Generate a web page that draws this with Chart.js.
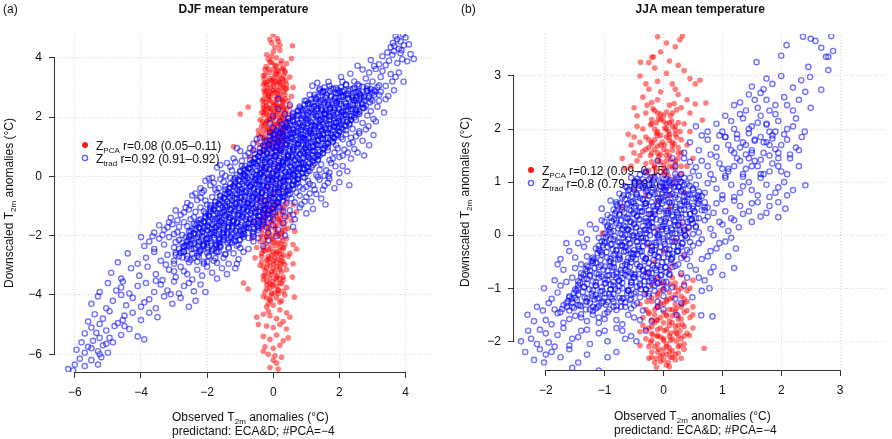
<!DOCTYPE html>
<html>
<head>
<meta charset="utf-8">
<script src="https://cdn.jsdelivr.net/npm/chart.js@4.4.1/dist/chart.umd.min.js"></script>
<style>
  html, body { margin: 0; padding: 0; background: #fff; }
  #wrap { position: relative; width: 892px; height: 439px; }
  canvas { position: absolute; top: 0; }
</style>
</head>
<body>
<div id="wrap">
  <canvas id="cDjf" width="446" height="439" style="left:0"></canvas>
  <canvas id="cJja" width="446" height="439" style="left:446px"></canvas>
</div>
<script>
// tick values
const djfTicks = [-6, -4, -2, 0, 2, 4];
const jjaTicks = [-2, -1, 0, 1, 2, 3];

// DJF, Z_trad (blue open circles) - x,y pairs
const djfTrad = [
  3.92,4.78, 3.75,4.62, 3.85,4.55, 3.62,4.5, 4.0,4.68, 3.7,4.72, 3.95,4.42, 3.55,4.35, 3.8,4.3, 4.1,4.45, 3.66,4.4, 3.88,4.25,
  3.45,4.18, 3.3,4.05, 3.6,4.1, 3.9,3.95, 4.25,3.96, 4.05,3.88, 3.75,3.82, 3.5,3.9, 3.2,3.78, 3.05,3.72, 3.65,4.22, 4.15,4.12, 3.4,3.75, 3.85,4.15, 2.95,3.92,
  2.55,3.73, 2.33,3.46, 2.7,3.6, 2.9,3.5, 3.1,3.62, 3.3,3.55, 3.55,3.45, 3.8,3.5, 2.8,3.3, 3.0,3.2, 3.25,3.35, 3.6,3.2, 3.94,3.19, 2.45,3.2, 2.6,3.05, 2.2,3.1, 3.4,3.05, 2.09,3.19, 1.67,3.19, 1.33,3.15, 1.18,3.05, 3.7,3.35, 2.05,3.35, 3.15,3.0, 2.85,3.05,
  1.5,2.85, 1.75,2.95, 1.95,2.8, 2.15,2.9, 2.4,2.95, 2.6,2.8, 2.85,2.9, 3.05,2.75, 3.25,2.85, 3.48,2.71, 3.65,2.9, 1.3,2.6, 1.6,2.65, 1.85,2.55, 2.05,2.7, 2.3,2.6, 2.5,2.65, 2.75,2.55, 2.95,2.6, 3.2,2.55, 3.4,2.6, 1.1,2.75, 0.15,2.61, 2.2,2.75, 2.65,2.7, 1.45,2.5, 1.9,2.98, 0.95,2.55,
  0.15,2.27, 0.5,2.4, 0.8,2.3, 1.05,2.45, 1.25,2.35, 1.45,2.25, 1.65,2.4, 1.85,2.3, 2.0,2.45, 2.2,2.35, 2.4,2.25, 2.55,2.4, 2.75,2.3, 2.95,2.2, 3.15,2.35, 3.35,2.15, 0.6,2.1, 0.9,2.05, 1.15,2.15, 1.35,2.05, 1.55,2.12, 1.75,2.02, 1.95,2.15, 2.15,2.08, 2.35,2.02, 2.6,2.1, 2.85,2.05, 0.35,2.1, 1.0,2.22, 1.6,2.2, 2.1,2.2, 2.5,2.18, 0.0,2.03, 3.03,1.93, 0.75,2.2, 1.3,2.28, 1.8,2.15,
  0.0,1.63, 0.2,1.85, 0.4,1.75, 0.6,1.9, 0.8,1.8, 1.0,1.95, 1.15,1.7, 1.3,1.85, 1.5,1.75, 1.7,1.9, 1.9,1.8, 2.1,1.95, 2.3,1.75, 2.5,1.9, 2.7,1.8, 2.88,1.69, 3.1,1.85, 0.3,1.55, 0.5,1.6, 0.7,1.52, 0.9,1.65, 1.1,1.55, 1.25,1.6, 1.45,1.52, 1.6,1.62, 1.8,1.55, 2.0,1.65, 2.2,1.55, 2.4,1.6, 2.6,1.52, 2.8,1.58, -0.1,1.8, 0.1,1.5, 0.65,1.72, 1.05,1.8, 1.4,1.68, 1.85,1.7, 2.25,1.85, 0.45,1.95, 1.55,1.95, 2.05,1.75, 0.85,1.58,
  -0.6,1.1, -0.4,1.3, -0.2,1.2, 0.0,1.4, 0.15,1.15, 0.3,1.35, 0.45,1.2, 0.6,1.45, 0.75,1.25, 0.9,1.4, 1.05,1.15, 1.2,1.35, 1.35,1.2, 1.5,1.45, 1.65,1.3, 1.8,1.15, 1.95,1.4, 2.1,1.25, 2.3,1.1, 2.5,1.35, 2.7,1.2, 3.03,1.39, 2.9,1.05, -0.3,1.05, -0.1,1.48, 0.1,1.02, 0.25,1.28, 0.4,1.05, 0.55,1.32, 0.7,1.08, 0.85,1.3, 1.0,1.05, 1.15,1.45, 1.3,1.08, 1.45,1.28, 1.6,1.1, 1.75,1.4, 1.9,1.05, 2.05,1.32, 2.2,1.42, 2.4,1.15, 2.6,1.45, -0.5,1.25, 0.05,1.25, 0.5,1.4, 0.95,1.22, 1.4,1.38, 1.85,1.28, 2.35,1.3,
  -1.2,0.6, -1.0,0.85, -0.85,0.7, -0.7,0.95, -0.55,0.6, -0.4,0.8, -0.25,0.55, -0.1,0.9, 0.05,0.7, 0.2,0.95, 0.35,0.6, 0.5,0.85, 0.65,0.55, 0.8,0.75, 0.95,0.95, 1.1,0.6, 1.25,0.85, 1.4,0.7, 1.55,0.95, 1.7,0.55, 1.85,0.8, 2.0,0.65, 2.15,0.9, 2.35,0.6, 2.55,0.8, 2.75,0.7, -1.1,0.95, -0.95,0.52, -0.75,0.78, -0.6,0.88, -0.45,0.52, -0.3,0.72, -0.15,0.62, 0.0,0.98, 0.15,0.52, 0.3,0.82, 0.45,0.68, 0.6,0.98, 0.75,0.62, 0.9,0.82, 1.05,0.72, 1.2,0.98, 1.35,0.55, 1.5,0.78, 1.65,0.88, 1.8,0.6, 1.95,0.95, 2.1,0.7, 2.25,0.8, 0.1,0.8, 0.55,0.72, 1.0,0.88, -0.2,0.78, 1.3,0.65, 2.45,0.92,
  -1.85,-0.05, -1.7,0.3, -1.55,0.1, -1.4,0.45, -1.25,0.2, -1.1,0.05, -0.95,0.35, -0.8,0.15, -0.65,0.45, -0.5,0.05, -0.35,0.3, -0.2,0.1, -0.05,0.4, 0.1,0.2, 0.25,0.45, 0.4,0.05, 0.55,0.3, 0.7,0.15, 0.85,0.42, 1.0,0.1, 1.15,0.3, 1.3,0.05, 1.45,0.4, 1.6,0.2, 1.75,0.45, 1.88,0.34, 2.0,0.1, 2.24,0.17, 2.1,0.35, -1.6,0.38, -1.45,0.02, -1.3,0.32, -1.15,0.48, -1.0,0.18, -0.85,0.02, -0.7,0.28, -0.55,0.42, -0.4,0.12, -0.25,0.48, -0.1,0.25, 0.05,0.02, 0.2,0.32, 0.35,0.15, 0.5,0.48, 0.65,0.02, 0.8,0.28, 0.95,0.38, 1.1,0.18, 1.25,0.45, 1.4,0.22, 1.55,0.02, 1.7,0.12, 1.67,0.0, -0.3,0.2, 0.3,0.38, 0.9,0.25, -0.9,0.25, 0.6,0.1,
  -2.2,-0.4, -2.05,-0.15, -1.9,-0.3, -1.75,-0.45, -1.6,-0.1, -1.45,-0.35, -1.3,-0.05, -1.15,-0.25, -1.0,-0.45, -0.85,-0.15, -0.7,-0.35, -0.55,-0.05, -0.4,-0.3, -0.25,-0.48, -0.1,-0.12, 0.05,-0.38, 0.2,-0.08, 0.35,-0.28, 0.5,-0.45, 0.65,-0.15, 0.8,-0.35, 0.95,-0.05, 1.1,-0.25, 1.25,-0.45, 1.4,-0.12, 1.55,-0.32, 1.7,-0.08, 1.85,-0.4, 2.0,-0.2, 2.3,-0.3, -2.1,-0.48, -1.95,-0.08, -1.8,-0.22, -1.65,-0.4, -1.5,-0.18, -1.35,-0.42, -1.2,-0.12, -1.05,-0.32, -0.9,-0.02, -0.75,-0.22, -0.6,-0.42, -0.45,-0.15, -0.3,-0.02, -0.15,-0.35, 0.0,-0.2, 0.15,-0.45, 0.3,-0.15, 0.45,-0.02, 0.6,-0.3, 0.75,-0.1, 0.9,-0.42, 1.05,-0.15, 1.2,-0.3, 1.35,-0.02, 1.5,-0.45, 1.65,-0.22, -0.5,-0.25, 0.1,-0.1, 0.7,-0.25, 1.0,-0.35,
  -2.6,-0.9, -2.45,-0.65, -2.3,-0.8, -2.15,-0.55, -2.0,-0.95, -1.85,-0.7, -1.7,-0.55, -1.55,-0.85, -1.4,-0.6, -1.25,-0.95, -1.1,-0.75, -0.95,-0.55, -0.8,-0.9, -0.65,-0.65, -0.5,-0.8, -0.35,-0.55, -0.2,-0.95, -0.05,-0.7, 0.1,-0.85, 0.25,-0.6, 0.4,-0.9, 0.55,-0.75, 0.7,-0.55, 0.85,-0.95, 1.0,-0.7, 1.15,-0.85, 1.3,-0.6, 1.58,-0.95, 1.45,-0.75, -2.5,-0.98, -2.35,-0.58, -2.2,-0.72, -2.05,-0.82, -1.9,-0.98, -1.75,-0.88, -1.6,-0.68, -1.45,-0.98, -1.3,-0.72, -1.15,-0.58, -1.0,-0.88, -0.85,-0.68, -0.7,-0.95, -0.55,-0.58, -0.4,-0.72, -0.25,-0.82, -0.1,-0.55, 0.05,-0.98, 0.2,-0.72, 0.35,-0.68, 0.5,-0.58, 0.65,-0.88, 0.8,-0.65, 0.95,-0.85, 1.1,-0.58,
  -3.1,-1.4, -2.95,-1.15, -2.8,-1.3, -2.65,-1.05, -2.5,-1.45, -2.35,-1.2, -2.2,-1.05, -2.05,-1.35, -1.9,-1.1, -1.75,-1.45, -1.6,-1.25, -1.45,-1.05, -1.3,-1.4, -1.15,-1.15, -1.0,-1.3, -0.85,-1.05, -0.7,-1.45, -0.55,-1.2, -0.4,-1.35, -0.25,-1.1, -0.1,-1.4, 0.05,-1.2, 0.2,-1.05, 0.35,-1.35, 0.5,-1.15, 0.65,-1.45, 0.8,-1.05, 1.0,-1.25, 1.2,-1.1, -2.9,-1.48, -2.7,-1.22, -2.55,-1.12, -2.4,-1.38, -2.25,-1.48, -2.1,-1.18, -1.95,-1.28, -1.8,-1.08, -1.65,-1.38, -1.5,-1.18, -1.35,-1.28, -1.2,-1.48, -1.05,-1.08, -0.9,-1.38, -0.75,-1.18, -0.6,-1.08, -0.45,-1.48, -0.3,-1.25, -0.15,-1.15, 0.0,-1.45, 0.3,-1.18, 0.6,-1.3,
  -3.6,-1.9, -3.45,-1.65, -3.3,-1.8, -3.15,-1.55, -3.0,-1.95, -2.85,-1.7, -2.7,-1.55, -2.55,-1.85, -2.4,-1.6, -2.25,-1.95, -2.1,-1.75, -1.95,-1.55, -1.8,-1.9, -1.65,-1.65, -1.5,-1.8, -1.35,-1.55, -1.2,-1.95, -1.05,-1.7, -0.9,-1.85, -0.75,-1.6, -0.6,-1.95, -0.45,-1.75, -0.3,-1.55, -0.15,-1.9, 0.0,-1.65, 0.15,-1.8, 0.3,-1.58, 0.6,-1.7, -3.35,-1.98, -3.2,-1.72, -3.05,-1.62, -2.9,-1.88, -2.75,-1.98, -2.6,-1.68, -2.45,-1.78, -2.3,-1.58, -2.15,-1.88, -2.0,-1.68, -1.85,-1.78, -1.7,-1.98, -1.55,-1.58, -1.4,-1.88, -1.25,-1.68, -1.1,-1.58, -0.95,-1.98, -0.8,-1.72, -0.5,-1.62, -0.2,-1.72,
  -4.0,-2.05, -3.9,-2.35, -3.75,-2.2, -3.6,-2.45, -3.45,-2.1, -3.3,-2.3, -3.15,-2.05, -3.0,-2.4, -2.85,-2.15, -2.7,-2.35, -2.55,-2.05, -2.4,-2.45, -2.25,-2.2, -2.1,-2.35, -1.95,-2.1, -1.8,-2.45, -1.65,-2.25, -1.5,-2.05, -1.35,-2.4, -1.2,-2.15, -1.05,-2.3, -0.9,-2.05, -0.75,-2.45, -0.6,-2.2, -0.45,-2.08, -0.3,-2.35, 0.1,-2.02, -2.95,-2.22, -2.5,-2.28, -2.0,-2.25, -1.6,-2.38, -1.3,-2.22, -1.0,-2.42, -0.15,-2.15, 0.36,-2.0, -3.65,-2.02,
  -4.7,-2.9, -4.4,-2.6, -4.1,-2.95, -3.85,-2.75, -3.6,-2.55, -3.4,-2.85, -3.2,-2.65, -3.0,-2.95, -2.85,-2.7, -2.7,-2.55, -2.55,-2.9, -2.4,-2.75, -2.25,-2.6, -2.1,-2.95, -1.95,-2.7, -1.8,-2.85, -1.65,-2.55, -1.5,-2.75, -1.35,-2.95, -1.2,-2.6, -1.05,-2.8, -0.9,-2.55, -3.25,-2.98, -2.95,-2.58, -2.6,-2.68, -2.3,-2.88, -2.0,-2.58, -1.7,-2.92, -1.45,-2.62, -1.1,-2.95,
  -4.9,-3.25, -4.6,-3.45, -4.3,-3.1, -4.05,-3.35, -3.8,-3.05, -3.55,-3.3, -3.35,-3.5, -3.15,-3.15, -2.95,-3.4, -2.8,-3.05, -2.6,-3.3, -2.45,-3.48, -2.3,-3.15, -2.15,-3.35, -2.0,-3.05, -1.85,-3.25, -1.7,-3.45, -1.55,-3.1, -1.4,-3.3, -1.15,-3.1, -3.0,-3.2, -2.7,-3.2,
  -5.25,-3.9, -5.0,-3.6, -4.75,-3.85, -4.55,-3.55, -4.35,-3.95, -4.1,-3.7, -3.85,-3.6, -3.6,-3.9, -3.4,-3.65, -3.2,-3.85, -3.0,-3.55, -2.85,-3.95, -2.7,-3.7, -2.55,-3.6, -2.4,-3.88, -2.2,-3.65, -2.05,-3.9, -3.55,-3.52, -4.6,-3.75, -3.1,-3.98,
  -5.5,-4.3, -5.3,-4.05, -5.05,-4.45, -4.85,-4.2, -4.6,-4.0, -4.45,-4.35, -4.25,-4.1, -4.0,-4.4, -3.75,-4.15, -3.55,-4.45, -3.3,-4.05, -3.05,-4.3, -2.8,-4.1, -2.55,-4.4, -2.35,-4.2, -3.9,-4.25,
  -5.6,-4.9, -5.4,-4.65, -5.15,-4.8, -4.95,-4.55, -4.7,-4.95, -4.5,-4.7, -4.25,-4.6, -4.0,-4.85, -3.75,-4.6, -3.5,-4.75, -4.55,-4.85, -5.25,-4.98,
  -5.7,-5.3, -5.5,-5.1, -5.25,-5.45, -5.05,-5.2, -4.8,-5.05, -4.6,-5.35, -4.35,-5.15, -4.1,-5.4, -3.9,-5.5, -5.35,-5.28, -4.95,-5.45, -4.5,-5.05,
  -5.95,-5.85, -5.8,-5.6, -5.6,-5.75, -5.45,-5.55, -5.3,-5.9, -5.15,-5.7, -5.0,-5.95, -4.85,-5.6, -5.7,-5.95, -5.5,-5.8, -5.25,-6.0, -5.05,-5.65,
  -6.2,-6.5, -6.0,-6.35, -5.85,-6.15, -5.7,-6.4, -5.5,-6.2, -5.3,-6.35, -5.2,-6.1, -6.05,-6.55
];

// DJF, Z_trad dense core band (solid blue in the picture)
const djfTradCore = [
  1.4,2.95, 1.7,3.05, 1.95,2.92, 2.2,3.08, 2.45,2.98, 2.7,3.02, 2.95,2.94, 3.2,3.06, 1.55,3.0, 2.05,3.0, 2.55,3.1, 3.05,2.9,
  1.25,2.75, 1.5,2.85, 1.75,2.72, 2.0,2.88, 2.25,2.78, 2.5,2.84, 2.75,2.7, 3.0,2.82, 1.4,2.9, 1.9,2.8, 2.4,2.72, 2.85,2.88, 3.2,2.75,
  1.0,2.55, 1.25,2.66, 1.5,2.58, 1.75,2.68, 2.0,2.52, 2.25,2.64, 2.5,2.56, 2.75,2.66, 3.0,2.55, 1.15,2.6, 1.65,2.52, 2.1,2.68, 2.6,2.62, 2.9,2.7,
  0.8,2.35, 1.05,2.46, 1.3,2.38, 1.55,2.48, 1.8,2.32, 2.05,2.44, 2.3,2.36, 2.55,2.46, 2.8,2.38, 0.95,2.42, 1.45,2.32, 1.9,2.48, 2.4,2.42, 2.7,2.32,
  0.6,2.15, 0.85,2.26, 1.1,2.18, 1.35,2.28, 1.6,2.12, 1.85,2.24, 2.1,2.16, 2.35,2.26, 2.6,2.18, 0.75,2.22, 1.25,2.12, 1.7,2.28, 2.2,2.22, 2.5,2.12,
  0.45,1.95, 0.7,2.06, 0.95,1.98, 1.2,2.08, 1.45,1.92, 1.7,2.04, 1.95,1.96, 2.2,2.06, 2.45,1.98, 0.6,2.02, 1.05,1.92, 1.55,2.08, 2.05,2.02, 2.35,1.92,
  0.25,1.75, 0.5,1.86, 0.75,1.78, 1.0,1.88, 1.25,1.72, 1.5,1.84, 1.75,1.76, 2.0,1.86, 2.3,1.78, 0.4,1.82, 0.9,1.72, 1.4,1.88, 1.9,1.82, 2.15,1.72,
  0.1,1.55, 0.35,1.66, 0.6,1.58, 0.85,1.68, 1.1,1.52, 1.35,1.64, 1.6,1.56, 1.85,1.66, 2.1,1.58, 0.25,1.62, 0.75,1.52, 1.25,1.68, 1.7,1.62, 2.0,1.52,
  -0.1,1.35, 0.15,1.46, 0.4,1.38, 0.65,1.48, 0.9,1.32, 1.15,1.44, 1.4,1.36, 1.65,1.46, 1.95,1.38, 0.05,1.42, 0.55,1.32, 1.05,1.48, 1.5,1.42, 1.8,1.32,
  -0.25,1.15, 0.0,1.26, 0.25,1.18, 0.5,1.28, 0.75,1.12, 1.0,1.24, 1.25,1.16, 1.5,1.26, 1.8,1.18, -0.1,1.22, 0.4,1.12, 0.9,1.28, 1.35,1.22, 1.65,1.12,
  -0.4,0.95, -0.15,1.06, 0.1,0.98, 0.35,1.08, 0.6,0.92, 0.85,1.04, 1.1,0.96, 1.35,1.06, 1.65,0.98, -0.25,1.02, 0.25,0.92, 0.75,1.08, 1.2,1.02, 1.5,0.92,
  -0.55,0.75, -0.3,0.86, -0.05,0.78, 0.2,0.88, 0.45,0.72, 0.7,0.84, 0.95,0.76, 1.2,0.86, 1.5,0.78, -0.4,0.82, 0.1,0.72, 0.6,0.88, 1.05,0.82, 1.35,0.72,
  -0.7,0.55, -0.45,0.66, -0.2,0.58, 0.05,0.68, 0.3,0.52, 0.55,0.64, 0.8,0.56, 1.05,0.66, 1.35,0.58, -0.55,0.62, -0.05,0.52, 0.45,0.68, 0.9,0.62, 1.2,0.52,
  -0.85,0.35, -0.6,0.46, -0.35,0.38, -0.1,0.48, 0.15,0.32, 0.4,0.44, 0.65,0.36, 0.9,0.46, 1.2,0.38, -0.7,0.42, -0.2,0.32, 0.3,0.48, 0.75,0.42, 1.05,0.32,
  -1.0,0.15, -0.75,0.26, -0.5,0.18, -0.25,0.28, 0.0,0.12, 0.25,0.24, 0.5,0.16, 0.75,0.26, 1.05,0.18, -0.85,0.22, -0.35,0.12, 0.15,0.28, 0.6,0.22, 0.9,0.12,
  -1.15,-0.05, -0.9,0.06, -0.65,-0.02, -0.4,0.08, -0.15,-0.08, 0.1,0.04, 0.35,-0.04, 0.6,0.06, 0.9,-0.02, -1.0,0.02, -0.5,-0.08, 0.0,0.08, 0.45,0.02, 0.75,-0.08,
  -1.3,-0.25, -1.05,-0.14, -0.8,-0.22, -0.55,-0.12, -0.3,-0.28, -0.05,-0.16, 0.2,-0.24, 0.45,-0.14, 0.75,-0.22, -1.15,-0.18, -0.65,-0.28, -0.15,-0.12, 0.3,-0.18, 0.6,-0.28,
  -1.45,-0.45, -1.2,-0.34, -0.95,-0.42, -0.7,-0.32, -0.45,-0.48, -0.2,-0.36, 0.05,-0.44, 0.3,-0.34, 0.6,-0.42, -1.3,-0.38, -0.8,-0.48, -0.3,-0.32, 0.15,-0.38, 0.45,-0.48,
  -1.6,-0.65, -1.35,-0.54, -1.1,-0.62, -0.85,-0.52, -0.6,-0.68, -0.35,-0.56, -0.1,-0.64, 0.15,-0.54, 0.45,-0.62, -1.45,-0.58, -0.95,-0.68, -0.45,-0.52, 0.0,-0.58, 0.3,-0.68,
  -1.75,-0.85, -1.5,-0.74, -1.25,-0.82, -1.0,-0.72, -0.75,-0.88, -0.5,-0.76, -0.25,-0.84, 0.0,-0.74, 0.3,-0.82, -1.6,-0.78, -1.1,-0.88, -0.6,-0.72, -0.15,-0.78, 0.15,-0.88,
  -1.9,-1.05, -1.65,-0.94, -1.4,-1.02, -1.15,-0.92, -0.9,-1.08, -0.65,-0.96, -0.4,-1.04, -0.15,-0.94, 0.15,-1.02, -1.75,-0.98, -1.25,-1.08, -0.75,-0.92, -0.3,-0.98, 0.0,-1.08,
  -2.05,-1.25, -1.8,-1.14, -1.55,-1.22, -1.3,-1.12, -1.05,-1.28, -0.8,-1.16, -0.55,-1.24, -0.3,-1.14, 0.0,-1.22, -1.9,-1.18, -1.4,-1.28, -0.9,-1.12, -0.45,-1.18, -0.15,-1.28,
  -2.2,-1.45, -1.95,-1.34, -1.7,-1.42, -1.45,-1.32, -1.2,-1.48, -0.95,-1.36, -0.7,-1.44, -0.45,-1.34, -0.15,-1.42, -2.05,-1.38, -1.55,-1.48, -1.05,-1.32, -0.6,-1.38, -0.3,-1.48,
  -2.35,-1.65, -2.1,-1.54, -1.85,-1.62, -1.6,-1.52, -1.35,-1.68, -1.1,-1.56, -0.85,-1.64, -0.6,-1.54, -0.3,-1.62, -2.2,-1.58, -1.7,-1.68, -1.2,-1.52, -0.75,-1.58, -0.45,-1.68,
  -2.5,-1.85, -2.25,-1.74, -2.0,-1.82, -1.75,-1.72, -1.5,-1.88, -1.25,-1.76, -1.0,-1.84, -0.75,-1.74, -0.45,-1.82, -2.35,-1.78, -1.85,-1.88, -1.35,-1.72, -0.9,-1.78, -0.6,-1.88,
  -2.65,-2.05, -2.4,-1.94, -2.15,-2.02, -1.9,-1.92, -1.65,-2.08, -1.4,-1.96, -1.15,-2.04, -0.9,-1.94, -0.6,-2.02, -2.5,-1.98, -2.0,-2.08, -1.5,-1.92, -1.05,-1.98, -0.75,-2.08,
  -2.75,-2.25, -2.5,-2.14, -2.25,-2.22, -2.0,-2.12, -1.75,-2.28, -1.5,-2.16, -1.25,-2.24, -1.0,-2.14, -2.6,-2.18, -2.1,-2.28, -1.6,-2.12, -1.15,-2.18,
  -2.85,-2.45, -2.6,-2.34, -2.35,-2.42, -2.1,-2.32, -1.85,-2.48, -1.6,-2.36, -1.35,-2.44, -1.1,-2.34, -2.7,-2.38, -2.2,-2.48, -1.7,-2.32,
  -2.95,-2.65, -2.7,-2.54, -2.45,-2.62, -2.2,-2.52, -1.95,-2.68, -1.7,-2.56, -1.45,-2.64, -2.8,-2.58, -2.3,-2.68, -1.85,-2.52,
  -3.0,-2.85, -2.75,-2.74, -2.5,-2.82, -2.25,-2.72, -2.0,-2.88, -1.75,-2.76, -2.6,-2.78, -2.1,-2.88
];

// DJF, Z_trad: second pass over the solid middle of the band
const djfTradCore2 = [
  1.55,2.88, 1.82,2.95, 2.08,2.86, 2.33,2.93, 2.58,2.87, 2.83,2.96, 3.08,2.85,
  1.35,2.68, 1.62,2.75, 1.88,2.66, 2.13,2.73, 2.38,2.67, 2.63,2.76, 2.88,2.65,
  1.15,2.48, 1.42,2.55, 1.68,2.46, 1.93,2.53, 2.18,2.47, 2.43,2.56, 2.68,2.45, 2.92,2.5,
  0.95,2.28, 1.22,2.35, 1.48,2.26, 1.73,2.33, 1.98,2.27, 2.23,2.36, 2.48,2.25, 2.72,2.3,
  0.78,2.08, 1.05,2.15, 1.3,2.06, 1.55,2.13, 1.8,2.07, 2.05,2.16, 2.3,2.05, 2.55,2.1,
  0.58,1.88, 0.85,1.95, 1.1,1.86, 1.35,1.93, 1.6,1.87, 1.85,1.96, 2.1,1.85, 2.35,1.9,
  0.42,1.68, 0.68,1.75, 0.93,1.66, 1.18,1.73, 1.43,1.67, 1.68,1.76, 1.93,1.65, 2.2,1.7,
  0.22,1.48, 0.48,1.55, 0.73,1.46, 0.98,1.53, 1.23,1.47, 1.48,1.56, 1.73,1.45, 2.0,1.5,
  0.05,1.28, 0.32,1.35, 0.57,1.26, 0.82,1.33, 1.07,1.27, 1.32,1.36, 1.57,1.25, 1.83,1.3,
  -0.12,1.08, 0.15,1.15, 0.4,1.06, 0.65,1.13, 0.9,1.07, 1.15,1.16, 1.4,1.05, 1.65,1.1,
  -0.28,0.88, -0.02,0.95, 0.23,0.86, 0.48,0.93, 0.73,0.87, 0.98,0.96, 1.23,0.85, 1.5,0.9,
  -0.45,0.68, -0.18,0.75, 0.07,0.66, 0.32,0.73, 0.57,0.67, 0.82,0.76, 1.07,0.65, 1.33,0.7,
  -0.6,0.48, -0.33,0.55, -0.08,0.46, 0.17,0.53, 0.42,0.47, 0.67,0.56, 0.92,0.45, 1.18,0.5,
  -0.75,0.28, -0.48,0.35, -0.23,0.26, 0.02,0.33, 0.27,0.27, 0.52,0.36, 0.77,0.25, 1.02,0.3,
  -0.9,0.08, -0.63,0.15, -0.38,0.06, -0.13,0.13, 0.12,0.07, 0.37,0.16, 0.62,0.05, 0.87,0.1,
  -1.05,-0.12, -0.78,-0.05, -0.53,-0.14, -0.28,-0.07, -0.03,-0.13, 0.22,-0.04, 0.47,-0.15, 0.72,-0.1,
  -1.2,-0.32, -0.93,-0.25, -0.68,-0.34, -0.43,-0.27, -0.18,-0.33, 0.07,-0.24, 0.32,-0.35, 0.57,-0.3,
  -1.35,-0.52, -1.08,-0.45, -0.83,-0.54, -0.58,-0.47, -0.33,-0.53, -0.08,-0.44, 0.17,-0.55, 0.42,-0.5,
  -1.5,-0.72, -1.23,-0.65, -0.98,-0.74, -0.73,-0.67, -0.48,-0.73, -0.23,-0.64, 0.02,-0.75, 0.27,-0.7,
  -1.65,-0.92, -1.38,-0.85, -1.13,-0.94, -0.88,-0.87, -0.63,-0.93, -0.38,-0.84, -0.13,-0.95, 0.12,-0.9,
  -1.8,-1.12, -1.53,-1.05, -1.28,-1.14, -1.03,-1.07, -0.78,-1.13, -0.53,-1.04, -0.28,-1.15, -0.03,-1.1,
  -1.95,-1.32, -1.68,-1.25, -1.43,-1.34, -1.18,-1.27, -0.93,-1.33, -0.68,-1.24, -0.43,-1.35, -0.18,-1.3,
  -2.1,-1.52, -1.83,-1.45, -1.58,-1.54, -1.33,-1.47, -1.08,-1.53, -0.83,-1.44, -0.58,-1.55, -0.33,-1.5,
  -2.25,-1.72, -1.98,-1.65, -1.73,-1.74, -1.48,-1.67, -1.23,-1.73, -0.98,-1.64, -0.73,-1.75, -0.48,-1.7,
  -2.4,-1.92, -2.13,-1.85, -1.88,-1.94, -1.63,-1.87, -1.38,-1.93, -1.13,-1.84, -0.88,-1.95, -0.63,-1.9,
  -2.55,-2.12, -2.28,-2.05, -2.03,-2.14, -1.78,-2.07, -1.53,-2.13, -1.28,-2.04, -1.03,-2.15,
  -2.65,-2.32, -2.38,-2.25, -2.13,-2.34, -1.88,-2.27, -1.63,-2.33, -1.38,-2.24,
  -2.75,-2.52, -2.48,-2.45, -2.23,-2.54, -1.98,-2.47, -1.73,-2.53
];

// DJF, Z_trad: third pass, the darkest ridge of the band
const djfTradCore3 = [
  1.45,2.83, 1.72,2.87, 2.0,2.82, 2.27,2.88, 2.55,2.84, 2.82,2.86,
  1.3,2.63, 1.57,2.67, 1.85,2.62, 2.12,2.68, 2.4,2.64, 2.67,2.66,
  1.1,2.43, 1.37,2.47, 1.65,2.42, 1.92,2.48, 2.2,2.44, 2.47,2.46, 2.72,2.43,
  0.9,2.23, 1.17,2.27, 1.45,2.22, 1.72,2.28, 2.0,2.24, 2.27,2.26, 2.52,2.23,
  0.75,2.03, 1.02,2.07, 1.3,2.02, 1.57,2.08, 1.85,2.04, 2.12,2.06, 2.37,2.03,
  0.6,1.83, 0.87,1.87, 1.15,1.82, 1.42,1.88, 1.7,1.84, 1.97,1.86, 2.22,1.83,
  0.45,1.63, 0.72,1.67, 1.0,1.62, 1.27,1.68, 1.55,1.64, 1.82,1.66, 2.07,1.63,
  0.28,1.43, 0.55,1.47, 0.83,1.42, 1.1,1.48, 1.38,1.44, 1.65,1.46, 1.9,1.43,
  0.12,1.23, 0.39,1.27, 0.67,1.22, 0.94,1.28, 1.22,1.24, 1.49,1.26, 1.74,1.23,
  -0.05,1.03, 0.22,1.07, 0.5,1.02, 0.77,1.08, 1.05,1.04, 1.32,1.06, 1.57,1.03,
  -0.2,0.83, 0.07,0.87, 0.35,0.82, 0.62,0.88, 0.9,0.84, 1.17,0.86, 1.42,0.83,
  -0.37,0.63, -0.1,0.67, 0.18,0.62, 0.45,0.68, 0.73,0.64, 1.0,0.66, 1.25,0.63,
  -0.52,0.43, -0.25,0.47, 0.03,0.42, 0.3,0.48, 0.58,0.44, 0.85,0.46, 1.1,0.43,
  -0.68,0.23, -0.41,0.27, -0.13,0.22, 0.14,0.28, 0.42,0.24, 0.69,0.26, 0.94,0.23,
  -0.85,0.03, -0.58,0.07, -0.3,0.02, -0.03,0.08, 0.25,0.04, 0.52,0.06, 0.77,0.03,
  -1.0,-0.17, -0.73,-0.13, -0.45,-0.18, -0.18,-0.12, 0.1,-0.16, 0.37,-0.14, 0.62,-0.17,
  -1.15,-0.37, -0.88,-0.33, -0.6,-0.38, -0.33,-0.32, -0.05,-0.36, 0.22,-0.34, 0.47,-0.37,
  -1.3,-0.57, -1.03,-0.53, -0.75,-0.58, -0.48,-0.52, -0.2,-0.56, 0.07,-0.54, 0.32,-0.57,
  -1.45,-0.77, -1.18,-0.73, -0.9,-0.78, -0.63,-0.72, -0.35,-0.76, -0.08,-0.74, 0.17,-0.77,
  -1.6,-0.97, -1.33,-0.93, -1.05,-0.98, -0.78,-0.92, -0.5,-0.96, -0.23,-0.94, 0.02,-0.97,
  -1.75,-1.17, -1.48,-1.13, -1.2,-1.18, -0.93,-1.12, -0.65,-1.16, -0.38,-1.14, -0.13,-1.17,
  -1.9,-1.37, -1.63,-1.33, -1.35,-1.38, -1.08,-1.32, -0.8,-1.36, -0.53,-1.34, -0.28,-1.37,
  -2.05,-1.57, -1.78,-1.53, -1.5,-1.58, -1.23,-1.52, -0.95,-1.56, -0.68,-1.54, -0.43,-1.57,
  -2.2,-1.77, -1.93,-1.73, -1.65,-1.78, -1.38,-1.72, -1.1,-1.76, -0.83,-1.74, -0.58,-1.77,
  -2.35,-1.97, -2.08,-1.93, -1.8,-1.98, -1.53,-1.92, -1.25,-1.96, -0.98,-1.94,
  -2.45,-2.17, -2.18,-2.13, -1.9,-2.18, -1.63,-2.12, -1.35,-2.16,
  -2.55,-2.37, -2.28,-2.33, -2.0,-2.38, -1.73,-2.32
];

// DJF, Z_PCA (red filled dots)
const djfPca = [
  0.0,4.78, 0.12,4.65, -0.05,4.5, 0.2,4.42, 0.05,4.35, 0.58,4.4, -0.1,4.62, 0.15,4.55,
  0.55,3.97, -0.2,4.1, 0.0,4.2, 0.1,4.0, 0.25,3.9, -0.1,3.85, 0.05,3.75, 0.3,3.65, -0.25,3.6, 0.15,3.55, 0.4,3.8, -0.05,4.05, 0.2,4.25, 0.0,3.6, 0.35,3.55, -0.15,3.95,
  -0.3,3.4, -0.1,3.3, 0.1,3.45, 0.3,3.25, 0.5,3.35, -0.2,3.1, 0.0,3.05, 0.2,3.15, 0.4,2.95, 0.6,3.0, -0.25,2.85, -0.05,2.8, 0.15,2.9, 0.35,2.75, 0.55,2.7, -0.3,2.6, -0.1,2.55, 0.1,2.65, 0.3,2.5, 0.45,2.55, 0.05,3.2, 0.25,2.6, -0.15,2.7, 0.4,3.1, 0.0,2.9,
  -1.0,2.1, -0.76,2.34, -0.3,2.4, -0.1,2.3, 0.1,2.45, 0.3,2.25, 0.5,2.35, -0.35,2.15, -0.15,2.05, 0.05,2.2, 0.25,2.0, 0.45,2.1, -0.4,1.9, -0.2,1.85, 0.0,1.95, 0.2,1.8, 0.4,1.9, -0.35,1.7, -0.15,1.6, 0.05,1.75, 0.25,1.55, 0.45,1.65, -0.45,1.55, -0.25,2.25, 0.15,2.35, 0.35,1.7, -0.05,1.5, 0.6,2.0,
  -1.2,1.0, -0.45,1.4, -0.25,1.3, -0.05,1.45, 0.15,1.35, 0.35,1.25, -0.5,1.15, -0.3,1.05, -0.1,1.2, 0.1,1.1, 0.3,1.0, -0.6,0.9, -0.4,0.8, -0.2,0.95, 0.0,0.7, 0.2,0.85, -0.7,0.65, 0.4,0.6,
  -0.3,0.3, 0.1,0.2, -0.1,0.0, 0.3,-0.1, -0.2,-0.3, 0.2,-0.4, 0.0,-0.6, 0.4,-0.5, -0.35,-0.7, 0.15,0.4,
  -0.4,-0.85, -0.2,-0.95, 0.0,-0.9, 0.2,-1.0, 0.4,-0.85, 0.6,-0.95, -0.5,-1.1, -0.3,-1.2, -0.1,-1.15, 0.1,-1.25, 0.3,-1.1, 0.5,-1.3, 0.7,-1.2, -0.45,-1.45, -0.25,-1.4, -0.05,-1.5, 0.15,-1.45, 0.35,-1.55, 0.55,-1.5, -0.6,-1.6, -0.35,-1.7, -0.15,-1.8, 0.05,-1.7, 0.25,-1.85, 0.45,-1.75, -0.3,-1.95, 0.1,-1.95, 0.65,-1.85,
  -0.65,-2.1, -0.4,-2.2, -0.2,-2.05, 0.0,-2.15, 0.2,-2.25, 0.4,-2.1, 0.6,-2.3, -0.5,-2.4, -0.3,-2.5, -0.1,-2.45, 0.1,-2.55, 0.3,-2.4, 0.5,-2.6, 0.7,-2.45, -0.55,-2.75, -0.35,-2.7, -0.15,-2.8, 0.05,-2.75, 0.25,-2.85, 0.45,-2.7, -0.4,-3.0, -0.2,-3.1, 0.0,-2.95, 0.2,-3.05, 0.4,-3.15, -0.05,-3.2, 0.3,-2.65, 0.6,-2.95,
  -0.9,-3.6, -0.76,-3.8, 0.58,-3.4, 0.64,-4.07, -0.3,-3.35, -0.1,-3.45, 0.1,-3.4, 0.3,-3.5, -0.2,-3.65, 0.0,-3.7, 0.2,-3.6, 0.4,-3.75, -0.25,-3.9, -0.05,-3.95, 0.15,-3.85, 0.35,-4.0, -0.1,-4.15, 0.1,-4.1, 0.25,-4.2, -0.3,-4.05,
  -0.5,-4.75, -0.2,-4.4, 0.0,-4.35, 0.2,-4.5, 0.4,-4.6, -0.3,-4.65, -0.1,-4.7, 0.1,-4.8, 0.3,-4.9, 0.5,-4.75, -0.45,-5.0, -0.2,-5.05, 0.0,-5.1, 0.2,-5.0, 0.4,-5.15, -0.15,-4.55,
  -0.3,-5.4, -0.1,-5.5, 0.1,-5.35, 0.3,-5.55, 0.45,-5.45, -0.25,-5.75, 0.0,-5.8, 0.2,-5.7, -0.15,-6.0, 0.05,-6.05, 0.25,-6.1, -0.3,-5.9, 0.1,-6.3, -0.1,-6.45, 0.15,-6.5, 0.0,-6.2
];

// DJF, Z_PCA dense column (solid red in the picture)
const djfPcaCore = [
  -0.22,3.7, 0.08,3.72, 0.28,3.62, -0.12,3.5, 0.18,3.42, -0.28,3.28, 0.02,3.32, 0.32,3.38, -0.18,3.18, 0.12,3.1, 0.38,3.22, -0.08,3.0, 0.22,2.98, -0.28,2.92, 0.05,2.82, 0.32,2.85, -0.15,2.72, 0.18,2.68, -0.32,2.55, -0.02,2.5, 0.28,2.42, -0.2,2.38, 0.1,2.3, 0.4,2.28, -0.1,2.18, 0.2,2.12, -0.3,2.05, 0.0,1.98, 0.3,1.92, -0.18,1.88, 0.12,1.8, -0.28,1.72, 0.02,1.65, 0.32,1.6, -0.12,1.55, 0.18,1.45, -0.35,1.4, -0.05,1.35, 0.25,1.3, -0.2,1.2, 0.08,1.12, -0.38,1.05, -0.12,0.98, 0.15,0.92, -0.3,0.85,
  -0.15,-0.82, 0.15,-0.88, 0.35,-1.0, -0.3,-1.02, 0.0,-1.08, 0.25,-1.18, -0.2,-1.25, 0.1,-1.32, 0.4,-1.38, -0.35,-1.42, -0.05,-1.55, 0.22,-1.6, -0.25,-1.68, 0.05,-1.78, 0.35,-1.82, -0.15,-1.9, 0.15,-2.0, -0.38,-2.02, -0.05,-2.1, 0.28,-2.18, -0.25,-2.28, 0.05,-2.35, 0.35,-2.3, -0.15,-2.48, 0.18,-2.52, -0.35,-2.6, -0.05,-2.65, 0.25,-2.72, -0.2,-2.82, 0.1,-2.9, 0.35,-2.98, -0.3,-3.05, 0.0,-3.12, 0.25,-3.22, -0.15,-3.28, 0.12,-3.35, -0.3,-3.48, 0.0,-3.55, 0.25,-3.62, -0.1,-3.78, 0.15,-3.82, -0.05,-4.0, 0.2,-4.25, -0.15,-4.3,
  -0.05,3.85, 0.22,3.8, -0.15,3.62, 0.12,3.58, 0.35,3.5, -0.25,3.42, 0.05,3.45, 0.25,3.3, -0.1,3.22, 0.15,3.25, -0.3,3.1, 0.0,3.15, 0.28,3.08, -0.18,2.98, 0.08,2.92, 0.38,2.95, -0.1,2.85, 0.2,2.78, -0.25,2.75, 0.1,2.6, 0.35,2.62, -0.15,2.58, 0.0,2.4, 0.22,2.35, -0.3,2.3, -0.05,2.25, 0.35,2.15, -0.22,2.12, 0.08,2.05, -0.12,1.98, 0.18,1.95, 0.4,1.85, -0.32,1.85, -0.05,1.82, 0.22,1.68, -0.18,1.65, 0.1,1.55, -0.3,1.55, 0.3,1.45, -0.1,1.45, 0.05,1.28, -0.28,1.25, 0.2,1.15, -0.1,1.08, 0.0,0.95,
  0.05,-0.95, -0.1,-1.15, 0.28,-1.28, -0.22,-1.35, 0.0,-1.4, 0.18,-1.5, -0.15,-1.62, 0.32,-1.7, -0.35,-1.8, 0.1,-1.88, -0.05,-1.98, 0.25,-2.05, -0.25,-2.15, 0.12,-2.25, -0.1,-2.3, 0.3,-2.45, -0.3,-2.42, 0.0,-2.55, 0.2,-2.62, -0.15,-2.7, 0.15,-2.8, -0.35,-2.88, 0.0,-2.85, 0.3,-2.88, -0.1,-3.0, 0.1,-3.05, -0.25,-3.18, 0.2,-3.15, -0.05,-3.32, 0.3,-3.4, -0.2,-3.52, 0.08,-3.48, -0.12,-3.62, 0.1,-3.7, 0.3,-3.88, -0.2,-3.8, 0.05,-3.92, -0.08,-4.2,
  -0.25,3.15, 0.18,3.18, -0.02,3.25, 0.3,3.02, -0.2,2.88, 0.12,2.78, -0.08,2.68, 0.28,2.55, -0.22,2.48, 0.05,2.42, 0.32,2.32, -0.15,2.3, 0.15,2.2, -0.28,2.18, 0.02,2.1, 0.3,2.05, -0.12,1.92, 0.22,1.88, -0.25,1.78, 0.08,1.72, -0.05,1.6, 0.28,1.55, -0.2,1.48, 0.12,1.38, -0.32,1.32, 0.0,1.2, 0.22,1.22, -0.15,1.12,
  -0.05,-1.22, 0.22,-1.42, -0.28,-1.55, 0.08,-1.65, -0.12,-1.72, 0.25,-1.92, -0.2,-2.05, 0.02,-2.22, 0.2,-2.38, -0.25,-2.52, 0.08,-2.62, -0.1,-2.78, 0.22,-2.95, -0.18,-2.95, 0.05,-3.22, -0.25,-3.35, 0.2,-3.45, -0.05,-3.65, 0.15,-3.95, -0.2,-4.1
];

// JJA, Z_trad (blue open circles)
const jjaTrad = [
  2.37,3.74, 2.85,3.75, 2.88,3.47, 2.58,3.66, 2.09,3.58, 2.68,3.53, 2.76,3.36, 2.0,3.38, 2.5,3.7, 2.8,3.36,
  1.58,3.26, 2.34,2.92, 2.49,2.98, 2.46,3.17, 2.8,3.11, 2.68,2.74, 2.41,2.7, 1.75,2.95, 1.5,2.8, 1.7,2.75, 2.0,3.0, 1.85,2.85, 2.2,2.78,
  1.3,2.5, 1.45,2.65, 1.6,2.4, 1.75,2.55, 1.9,2.45, 2.05,2.6, 2.2,2.35, 1.4,2.35, 1.55,2.55, 2.1,2.45, 1.8,2.35, 1.65,2.68, 2.3,2.55, 2.5,2.4, 1.2,2.45,
  0.9,2.1, 1.05,2.25, 1.2,2.0, 1.35,2.2, 1.5,2.05, 1.65,2.25, 1.8,1.95, 1.95,2.15, 2.1,2.0, 2.25,2.2, 2.4,1.95, 0.75,1.95, 1.0,1.95, 1.3,2.28, 1.45,1.92, 1.6,2.12, 1.75,2.08, 1.9,2.28, 2.05,1.9, 2.2,2.05, 0.55,2.05, 1.15,2.15,
  0.6,1.6, 0.75,1.8, 0.9,1.65, 1.05,1.85, 1.2,1.55, 1.35,1.75, 1.5,1.6, 1.65,1.85, 1.8,1.7, 1.95,1.55, 2.1,1.8, 2.25,1.65, 2.35,1.85, 0.45,1.75, 0.8,1.52, 0.95,1.88, 1.1,1.7, 1.25,1.82, 1.4,1.52, 1.55,1.78, 1.7,1.55, 1.85,1.88, 2.0,1.7, 2.15,1.52, 0.65,1.88, 1.3,1.65, 1.75,1.75, 2.3,1.6, 0.35,1.55, 1.9,1.62,
  0.2,1.3, 0.35,1.45, 0.5,1.2, 0.65,1.4, 0.8,1.15, 0.95,1.35, 1.1,1.2, 1.25,1.45, 1.4,1.25, 1.55,1.4, 1.7,1.15, 1.85,1.35, 2.0,1.2, 2.15,1.45, 2.3,1.3, -0.1,1.4, 0.05,1.2, 0.3,1.15, 0.45,1.38, 0.6,1.12, 0.75,1.3, 0.9,1.48, 1.05,1.12, 1.2,1.3, 1.35,1.15, 1.5,1.3, 1.65,1.42, 1.8,1.2, 1.95,1.45, 2.1,1.15, -0.3,1.2, 0.15,1.45, 0.55,1.28, 1.0,1.25, 1.45,1.45,
  -0.5,0.9, -0.35,1.05, -0.2,0.8, -0.05,1.0, 0.1,0.85, 0.25,1.05, 0.4,0.75, 0.55,0.95, 0.7,0.8, 0.85,1.05, 1.0,0.75, 1.15,0.95, 1.3,0.8, 1.45,1.0, 1.6,0.75, 1.75,0.95, 1.9,0.8, 2.05,1.0, 2.2,0.85, 2.41,0.94, -0.6,0.75, -0.45,0.72, -0.3,0.88, -0.15,1.08, 0.0,0.72, 0.15,0.98, 0.3,0.82, 0.45,1.08, 0.6,0.72, 0.75,0.98, 0.9,0.88, 1.05,1.08, 1.2,0.72, 1.35,0.92, 1.5,0.85, 1.65,1.08, 1.8,0.72, 1.95,0.9, 2.1,0.75, -0.25,0.95, 0.2,0.92, 0.5,0.85, -0.1,0.78, 0.35,0.95, 0.05,0.9,
  -1.05,0.5, -0.9,0.65, -0.75,0.4, -0.6,0.6, -0.45,0.35, -0.3,0.55, -0.15,0.45, 0.0,0.65, 0.15,0.35, 0.3,0.55, 0.45,0.4, 0.6,0.65, 0.75,0.35, 0.9,0.6, 1.05,0.45, 1.2,0.65, 1.35,0.4, 1.5,0.6, 1.65,0.35, 1.8,0.55, 1.95,0.34, 2.07,0.5, -0.95,0.38, -0.8,0.58, -0.65,0.32, -0.5,0.52, -0.35,0.68, -0.2,0.32, -0.05,0.5, 0.1,0.62, 0.25,0.38, 0.4,0.58, 0.55,0.32, 0.7,0.52, 0.85,0.42, 1.0,0.68, 1.15,0.32, 1.3,0.55, 1.45,0.45, 1.6,0.62, 1.75,0.42, -0.7,0.48, -0.4,0.45, -0.1,0.58, 0.2,0.48, 0.5,0.5, -0.55,0.62, -0.25,0.4, 0.05,0.42, 0.35,0.65, 1.95,0.62,
  -1.4,0.05, -1.25,0.2, -1.1,-0.05, -0.95,0.15, -0.8,0.28, -0.65,0.0, -0.5,0.2, -0.35,-0.05, -0.2,0.15, -0.05,0.28, 0.1,0.0, 0.25,0.2, 0.4,-0.05, 0.55,0.15, 0.7,0.28, 0.85,0.0, 1.0,0.2, 1.15,-0.05, 1.28,0.15, 1.5,0.25, -1.3,-0.08, -1.15,0.12, -1.0,0.25, -0.85,-0.08, -0.7,0.12, -0.55,0.25, -0.4,0.08, -0.25,0.22, -0.1,-0.02, 0.05,0.12, 0.2,0.25, 0.35,0.08, 0.5,0.22, 0.65,-0.08, 0.8,0.12, 0.95,0.25, 1.1,0.08, 1.2,0.28, -0.6,0.1, -0.3,0.1, 0.0,0.18, 0.3,0.05, -0.9,0.05, -0.45,-0.02, 0.15,0.1, 0.6,0.05, -0.15,0.05, 0.45,0.28, -0.75,0.18, -1.05,0.28,
  -1.75,-0.45, -1.6,-0.3, -1.45,-0.15, -1.3,-0.4, -1.15,-0.25, -1.0,-0.12, -0.85,-0.38, -0.7,-0.2, -0.55,-0.45, -0.4,-0.3, -0.25,-0.15, -0.1,-0.4, 0.05,-0.25, 0.2,-0.12, 0.35,-0.38, 0.5,-0.2, 0.65,-0.45, 0.8,-0.3, 0.95,-0.15, 1.1,-0.4, 1.23,-0.25, -1.65,-0.15, -1.5,-0.42, -1.35,-0.22, -1.2,-0.48, -1.05,-0.32, -0.9,-0.18, -0.75,-0.42, -0.6,-0.28, -0.45,-0.12, -0.3,-0.45, -0.15,-0.28, 0.0,-0.12, 0.15,-0.42, 0.3,-0.22, 0.45,-0.32, 0.6,-0.15, 0.75,-0.4, 0.9,-0.25, 1.05,-0.12, -0.5,-0.35, -0.2,-0.22, 0.1,-0.35, -0.8,-0.28, -0.35,-0.4, 0.4,-0.45, -1.1,-0.2, 0.25,-0.3, -0.65,-0.12,
  -1.85,-0.85, -1.7,-0.65, -1.55,-0.8, -1.4,-0.55, -1.25,-0.75, -1.1,-0.6, -0.95,-0.85, -0.8,-0.7, -0.65,-0.55, -0.5,-0.8, -0.35,-0.65, -0.2,-0.85, -0.05,-0.6, 0.1,-0.75, 0.25,-0.55, 0.4,-0.8, 0.55,-0.65, 0.7,-0.85, 0.85,-0.6, 1.0,-0.75, 1.2,-0.62, -1.8,-0.55, -1.65,-0.88, -1.5,-0.62, -1.35,-0.82, -1.2,-0.52, -1.05,-0.78, -0.9,-0.58, -0.75,-0.85, -0.6,-0.68, -0.45,-0.55, -0.3,-0.78, -0.15,-0.62, 0.0,-0.88, 0.15,-0.6, 0.3,-0.72, 0.45,-0.58, 0.6,-0.8, 0.8,-0.7, -0.55,-0.72, -0.25,-0.7, -0.85,-0.75, -1.3,-0.68, 0.05,-0.7,
  -2.03,-1.0, -1.9,-1.2, -1.75,-0.95, -1.6,-1.15, -1.45,-1.0, -1.3,-1.25, -1.15,-0.95, -1.0,-1.1, -0.85,-1.25, -0.7,-1.0, -0.55,-1.2, -0.4,-0.95, -0.25,-1.15, -0.1,-1.25, 0.05,-1.0, 0.2,-1.2, 0.35,-0.95, 0.49,-1.17, 0.65,-1.05, 0.78,-1.0, -1.95,-1.28, -1.8,-1.08, -1.65,-1.28, -1.5,-1.18, -1.35,-0.98, -1.2,-1.15, -1.05,-1.28, -0.9,-1.02, -0.75,-1.18, -0.6,-1.05, -0.45,-1.28, -0.3,-1.02, -0.15,-1.05, 0.0,-1.15, 0.15,-0.98, 0.3,-1.28, -0.5,-1.1, -1.1,-1.18,
  -2.31,-1.5, -2.15,-1.35, -2.0,-1.6, -1.85,-1.4, -1.7,-1.65, -1.55,-1.35, -1.4,-1.55, -1.25,-1.4, -1.1,-1.65, -0.95,-1.45, -0.8,-1.6, -0.65,-1.35, -0.5,-1.55, -0.35,-1.42, -0.2,-1.62, 0.0,-1.4, 0.22,-1.5, 0.64,-1.51, 0.83,-1.53, -2.2,-1.62, -2.05,-1.42, -1.9,-1.68, -1.75,-1.45, -1.6,-1.58, -1.45,-1.32, -1.3,-1.62, -1.15,-1.38, -1.0,-1.58, -0.85,-1.35, -0.7,-1.68, -0.55,-1.38, -0.4,-1.6, -0.1,-1.35, -1.2,-1.5, -0.6,-1.5,
  -2.42,-2.0, -2.3,-1.8, -2.15,-2.05, -2.0,-1.85, -1.85,-2.1, -1.7,-1.75, -1.55,-1.95, -1.4,-1.8, -1.25,-2.05, -1.1,-1.85, -0.95,-2.0, -0.8,-1.75, -0.65,-1.95, -0.46,-2.0, -0.3,-1.8, -2.25,-1.95, -2.1,-1.78, -1.95,-2.02, -1.8,-1.88, -1.6,-2.08, -1.45,-1.92, -1.3,-1.78, -1.0,-1.8, -0.7,-1.8, -0.55,-1.9,
  -2.35,-2.2, -2.2,-2.35, -2.03,-2.4, -1.9,-2.2, -1.75,-2.3, -1.6,-2.15, -1.45,-2.4, -1.3,-2.25, -1.1,-2.55, -0.95,-2.3, -0.8,-2.2, -2.1,-2.15, -1.55,-2.5, -2.0,-2.25
];

// JJA, Z_trad dense core and upper-right lobe
const jjaTradCore = [
  -0.55,1.08, -0.4,1.14, -0.25,1.05, -0.1,1.12, 0.05,1.06, 0.2,1.15, 0.35,1.08, -0.3,1.18, 0.1,1.02,
  -0.65,0.92, -0.5,0.98, -0.35,0.9, -0.2,0.97, -0.05,0.92, 0.1,0.99, 0.25,0.91, 0.4,0.97, -0.42,1.0, 0.0,0.9, 0.3,1.0,
  -0.75,0.78, -0.6,0.84, -0.45,0.76, -0.3,0.83, -0.15,0.77, 0.0,0.85, 0.15,0.78, 0.3,0.84, 0.45,0.76, 0.6,0.82, -0.5,0.86, 0.1,0.75,
  -0.8,0.62, -0.65,0.68, -0.5,0.6, -0.35,0.67, -0.2,0.62, -0.05,0.69, 0.1,0.61, 0.25,0.68, 0.4,0.63, 0.55,0.7, 0.7,0.62, -0.3,0.6,
  -0.85,0.48, -0.7,0.53, -0.55,0.46, -0.4,0.52, -0.25,0.47, -0.1,0.54, 0.05,0.46, 0.2,0.53, 0.35,0.48, 0.5,0.55, 0.65,0.47, 0.75,0.52,
  -0.9,0.33, -0.75,0.38, -0.6,0.31, -0.45,0.37, -0.3,0.32, -0.15,0.39, 0.0,0.31, 0.15,0.38, 0.3,0.33, 0.45,0.4, 0.6,0.32, -0.5,0.41,
  -0.95,0.18, -0.8,0.23, -0.65,0.16, -0.5,0.22, -0.35,0.17, -0.2,0.24, -0.05,0.16, 0.1,0.23, 0.25,0.18, 0.4,0.25, 0.55,0.17, -0.3,0.26,
  -1.0,0.03, -0.85,0.08, -0.7,0.01, -0.55,0.07, -0.4,0.02, -0.25,0.09, -0.1,0.01, 0.05,0.08, 0.2,0.03, 0.35,0.1, 0.5,0.02, -0.6,0.11,
  -1.05,-0.12, -0.9,-0.07, -0.75,-0.14, -0.6,-0.08, -0.45,-0.13, -0.3,-0.06, -0.15,-0.14, 0.0,-0.07, 0.15,-0.12, 0.3,-0.05, 0.45,-0.13, -0.5,-0.04,
  -1.1,-0.27, -0.95,-0.22, -0.8,-0.29, -0.65,-0.23, -0.5,-0.28, -0.35,-0.21, -0.2,-0.29, -0.05,-0.22, 0.1,-0.27, 0.25,-0.2, 0.4,-0.28, -0.7,-0.19,
  -1.2,-0.42, -1.05,-0.37, -0.9,-0.44, -0.75,-0.38, -0.6,-0.43, -0.45,-0.36, -0.3,-0.44, -0.15,-0.37, 0.0,-0.42, 0.15,-0.35, 0.3,-0.43, -0.55,-0.34,
  -1.3,-0.57, -1.15,-0.52, -1.0,-0.59, -0.85,-0.53, -0.7,-0.58, -0.55,-0.51, -0.4,-0.59, -0.25,-0.52, -0.1,-0.57, 0.05,-0.5, 0.2,-0.58, -0.9,-0.49,
  -1.4,-0.72, -1.25,-0.67, -1.1,-0.74, -0.95,-0.68, -0.8,-0.73, -0.65,-0.66, -0.5,-0.74, -0.35,-0.67, -0.2,-0.72, -0.05,-0.65, 0.1,-0.73, -0.6,-0.78,
  -1.45,-0.87, -1.3,-0.82, -1.15,-0.89, -1.0,-0.83, -0.85,-0.88, -0.7,-0.81, -0.55,-0.89, -0.4,-0.82, -0.25,-0.87, -0.1,-0.8, 0.05,-0.88, -0.9,-0.93,
  -1.5,-1.02, -1.35,-0.97, -1.2,-1.04, -1.05,-0.98, -0.9,-1.03, -0.75,-0.96, -0.6,-1.04, -0.45,-0.97, -0.3,-1.02, -0.15,-0.95, 0.0,-1.03,
  -1.6,-1.17, -1.45,-1.12, -1.3,-1.19, -1.15,-1.13, -1.0,-1.18, -0.85,-1.11, -0.7,-1.19, -0.55,-1.12, -0.4,-1.17, -0.25,-1.1,
  -1.7,-1.32, -1.55,-1.27, -1.4,-1.34, -1.25,-1.28, -1.1,-1.33, -0.95,-1.26, -0.8,-1.34, -0.65,-1.27, -0.5,-1.32,
  -1.8,-1.47, -1.6,-1.42, -1.4,-1.49, -1.2,-1.43, -1.0,-1.48, -0.8,-1.41, -1.5,-1.52, -1.1,-1.55,
  1.1,1.25, 1.3,1.4, 1.5,1.55, 1.7,1.75, 1.25,1.9, 1.45,2.0, 1.6,1.3, 1.8,1.5, 1.35,1.1, 1.55,1.8, 1.9,1.95, 1.15,1.6, 1.75,2.1, 1.95,1.3, 1.05,1.85, 1.65,1.15, 1.4,1.7, 1.85,1.82
];

// JJA, Z_trad: second pass over the solid core
const jjaTradCore2 = [
  -0.48,1.02, -0.32,0.99, -0.18,1.03, -0.02,0.98, 0.12,1.04, 0.28,1.0,
  -0.58,0.86, -0.42,0.88, -0.27,0.84, -0.12,0.89, 0.03,0.85, 0.18,0.9, 0.33,0.86, 0.5,0.88,
  -0.7,0.71, -0.55,0.73, -0.4,0.7, -0.25,0.74, -0.1,0.7, 0.05,0.75, 0.2,0.71, 0.35,0.73, 0.5,0.69, 0.65,0.74,
  -0.78,0.56, -0.62,0.58, -0.47,0.55, -0.32,0.59, -0.17,0.55, -0.02,0.6, 0.13,0.56, 0.28,0.58, 0.43,0.54, 0.6,0.59,
  -0.82,0.41, -0.67,0.43, -0.52,0.4, -0.37,0.44, -0.22,0.4, -0.07,0.45, 0.08,0.41, 0.23,0.43, 0.38,0.39, 0.53,0.44,
  -0.88,0.26, -0.72,0.28, -0.57,0.25, -0.42,0.29, -0.27,0.25, -0.12,0.3, 0.03,0.26, 0.18,0.28, 0.33,0.24, 0.48,0.29,
  -0.92,0.11, -0.77,0.13, -0.62,0.1, -0.47,0.14, -0.32,0.1, -0.17,0.15, -0.02,0.11, 0.13,0.13, 0.28,0.09, 0.43,0.14,
  -0.98,-0.04, -0.83,-0.02, -0.68,-0.05, -0.53,-0.01, -0.38,-0.05, -0.23,0.0, -0.08,-0.04, 0.07,-0.02, 0.22,-0.06, 0.37,-0.01,
  -1.03,-0.19, -0.88,-0.17, -0.73,-0.2, -0.58,-0.16, -0.43,-0.2, -0.28,-0.15, -0.13,-0.19, 0.02,-0.17, 0.17,-0.21, 0.32,-0.16,
  -1.12,-0.34, -0.97,-0.32, -0.82,-0.35, -0.67,-0.31, -0.52,-0.35, -0.37,-0.3, -0.22,-0.34, -0.07,-0.32, 0.08,-0.36, 0.23,-0.31,
  -1.22,-0.49, -1.07,-0.47, -0.92,-0.5, -0.77,-0.46, -0.62,-0.5, -0.47,-0.45, -0.32,-0.49, -0.17,-0.47, -0.02,-0.51, 0.13,-0.46,
  -1.32,-0.64, -1.17,-0.62, -1.02,-0.65, -0.87,-0.61, -0.72,-0.65, -0.57,-0.6, -0.42,-0.64, -0.27,-0.62, -0.12,-0.66, 0.03,-0.61,
  -1.4,-0.79, -1.25,-0.77, -1.1,-0.8, -0.95,-0.76, -0.8,-0.8, -0.65,-0.75, -0.5,-0.79, -0.35,-0.77, -0.2,-0.81, -0.05,-0.76,
  -1.45,-0.94, -1.3,-0.92, -1.15,-0.95, -1.0,-0.91, -0.85,-0.95, -0.7,-0.9, -0.55,-0.94, -0.4,-0.92, -0.25,-0.96, -0.1,-0.91,
  -1.52,-1.09, -1.37,-1.07, -1.22,-1.1, -1.07,-1.06, -0.92,-1.1, -0.77,-1.05, -0.62,-1.09, -0.47,-1.07, -0.32,-1.11,
  -1.62,-1.24, -1.47,-1.22, -1.32,-1.25, -1.17,-1.21, -1.02,-1.25, -0.87,-1.2, -0.72,-1.24, -0.57,-1.22,
  -1.72,-1.39, -1.52,-1.37, -1.32,-1.4, -1.12,-1.36, -0.92,-1.4, -0.72,-1.35
];

// JJA, Z_trad: third pass, darkest part of the core
const jjaTradCore3 = [
  -0.45,1.06, -0.22,1.08, 0.0,1.05, 0.22,1.09,
  -0.62,0.9, -0.4,0.93, -0.18,0.9, 0.04,0.94, 0.26,0.91, 0.44,0.93,
  -0.68,0.75, -0.46,0.78, -0.24,0.75, -0.02,0.79, 0.2,0.76, 0.42,0.78, 0.58,0.75,
  -0.74,0.6, -0.52,0.63, -0.3,0.6, -0.08,0.64, 0.14,0.61, 0.36,0.63, 0.58,0.6,
  -0.8,0.45, -0.58,0.48, -0.36,0.45, -0.14,0.49, 0.08,0.46, 0.3,0.48, 0.52,0.45, 0.7,0.47,
  -0.84,0.3, -0.62,0.33, -0.4,0.3, -0.18,0.34, 0.04,0.31, 0.26,0.33, 0.48,0.3,
  -0.9,0.15, -0.68,0.18, -0.46,0.15, -0.24,0.19, -0.02,0.16, 0.2,0.18, 0.42,0.15,
  -0.95,0.0, -0.73,0.03, -0.51,0.0, -0.29,0.04, -0.07,0.01, 0.15,0.03, 0.37,0.0,
  -1.0,-0.15, -0.78,-0.12, -0.56,-0.15, -0.34,-0.11, -0.12,-0.14, 0.1,-0.12, 0.32,-0.15,
  -1.08,-0.3, -0.86,-0.27, -0.64,-0.3, -0.42,-0.26, -0.2,-0.29, 0.02,-0.27, 0.24,-0.3,
  -1.18,-0.45, -0.96,-0.42, -0.74,-0.45, -0.52,-0.41, -0.3,-0.44, -0.08,-0.42, 0.14,-0.45,
  -1.28,-0.6, -1.06,-0.57, -0.84,-0.6, -0.62,-0.56, -0.4,-0.59, -0.18,-0.57, 0.04,-0.6,
  -1.36,-0.75, -1.14,-0.72, -0.92,-0.75, -0.7,-0.71, -0.48,-0.74, -0.26,-0.72, -0.04,-0.75,
  -1.42,-0.9, -1.2,-0.87, -0.98,-0.9, -0.76,-0.86, -0.54,-0.89, -0.32,-0.87, -0.1,-0.9,
  -1.48,-1.05, -1.26,-1.02, -1.04,-1.05, -0.82,-1.01, -0.6,-1.04, -0.38,-1.02,
  -1.56,-1.2, -1.34,-1.17, -1.12,-1.2, -0.9,-1.16, -0.68,-1.19,
  -1.64,-1.35, -1.42,-1.32, -1.2,-1.35, -0.98,-1.31
];

// JJA, Z_PCA (red filled dots)
const jjaPca = [
  -0.1,3.74, 0.32,3.75, 0.05,3.62, -0.39,3.26, -0.17,3.36, 0.2,3.55, -0.05,3.45, 0.28,3.68, -0.2,3.35,
  -0.4,3.0, -0.15,3.15, 0.05,3.05, 0.25,3.2, 0.45,2.95, 0.62,2.92, -0.3,2.85, -0.1,2.9, 0.15,2.85, 0.35,3.1, 0.54,2.85, -0.25,3.25, 0.1,3.28,
  -0.5,2.4, -0.35,2.6, -0.2,2.5, -0.05,2.7, 0.1,2.45, 0.25,2.65, 0.4,2.55, 0.54,2.47, 0.72,2.49, 0.66,2.17, -0.45,2.25, -0.3,2.3, -0.15,2.35, 0.0,2.25, 0.15,2.3, 0.3,2.4, -0.1,2.55, 0.2,2.75, 0.45,2.3, -0.25,2.75,
  -0.6,1.9, -0.45,2.05, -0.3,1.85, -0.2,2.1, -0.1,1.95, 0.0,2.15, 0.1,1.9, 0.2,2.05, 0.3,1.8, 0.45,1.95, -0.55,1.7, -0.4,1.75, -0.25,1.65, -0.15,1.8, -0.05,1.7, 0.05,1.85, 0.15,1.75, 0.25,1.65, 0.35,2.1, -0.35,2.0, 0.0,1.62, 0.1,2.12, -0.1,1.88, 0.2,1.9, -0.2,1.72, 0.05,2.0, -0.05,2.18, 0.15,1.68, 0.4,1.7, -0.5,1.85,
  -0.7,1.45, -0.55,1.3, -0.4,1.5, -0.3,1.35, -0.2,1.55, -0.1,1.4, 0.0,1.25, 0.1,1.5, 0.2,1.35, 0.3,1.55, 0.4,1.3, -0.65,1.25, -0.45,1.4, -0.25,1.22, -0.05,1.52, 0.15,1.28, 0.25,1.45, -0.15,1.3, 0.05,1.4, -0.35,1.58, 0.5,1.45, -0.5,1.55,
  -0.4,1.0, -0.2,1.1, 0.0,0.9, 0.2,1.05, 0.35,0.8, -0.3,0.75, -0.1,0.65, 0.1,0.75, 0.3,1.15, -0.5,0.85, -0.7,0.53, 0.0,1.15, 0.15,0.95,
  -1.04,0.04, -0.2,0.4, 0.1,0.5, 0.3,0.2, -0.1,0.1, 0.2,-0.1, 0.0,-0.3, 0.35,-0.4, -0.15,-0.5, 0.15,-0.55, 0.4,0.1, -0.25,-0.2,
  -0.3,-0.7, -0.1,-0.8, 0.1,-0.65, 0.3,-0.75, 0.5,-0.85, -0.2,-0.95, 0.0,-1.0, 0.2,-0.9, 0.4,-1.05, -0.3,-1.1, -0.1,-1.15, 0.1,-1.2, 0.3,-1.15, 0.45,-1.0, -0.05,-0.9, 0.25,-1.05, 0.15,-0.8, 0.35,-0.9,
  -0.4,-1.3, -0.25,-1.45, -0.1,-1.35, 0.05,-1.5, 0.2,-1.3, 0.35,-1.45, 0.5,-1.35, -0.35,-1.55, -0.2,-1.25, -0.05,-1.55, 0.1,-1.4, 0.25,-1.58, 0.4,-1.25, -0.15,-1.5, 0.0,-1.3, 0.15,-1.52, 0.3,-1.35, 0.45,-1.55, -0.3,-1.4, 0.05,-1.25, 0.2,-1.45, -0.1,-1.6, 0.35,-1.28, 0.5,-1.5,
  -0.35,-1.7, -0.2,-1.85, -0.05,-1.75, 0.1,-1.9, 0.25,-1.7, 0.4,-1.85, 0.44,-1.89, -0.3,-1.95, -0.15,-1.65, 0.0,-1.98, 0.15,-1.65, 0.3,-1.95, -0.4,-1.82, -0.1,-1.9, 0.05,-1.78, 0.2,-1.82, 0.35,-1.72, -0.25,-1.75, 0.1,-1.7, -0.05,-1.92, 0.25,-1.9, 0.5,-1.75, -0.2,-1.98, 0.15,-1.95,
  -0.4,-2.08, 0.69,-2.13, -0.25,-2.1, -0.1,-2.2, 0.05,-2.1, 0.2,-2.25, 0.35,-2.15, -0.2,-2.3, 0.0,-2.35, 0.15,-2.3, -0.12,-2.49, 0.05,-2.45, -0.05,-2.28, 0.1,-2.2, 0.25,-2.1, -0.15,-2.4, 0.3,-2.32, 0.0,-2.15
];

// JJA, Z_PCA dense parts of the column
const jjaPcaCore = [
  -0.18,2.38, 0.05,2.32, 0.22,2.36, -0.08,2.2, 0.14,2.15, -0.22,2.08, 0.02,2.02, 0.2,1.98, -0.12,1.92, 0.1,1.85, -0.25,1.8, -0.02,1.75, 0.18,1.72, -0.15,1.62, 0.06,1.58, 0.25,1.55, -0.08,1.48, 0.12,1.42, -0.2,1.38, 0.0,1.32, 0.2,1.25, -0.12,1.2, 0.08,1.12, -0.05,2.28, 0.15,2.05, -0.1,1.68,
  -0.15,-0.85, 0.12,-0.92, 0.3,-1.0, -0.05,-1.05, 0.2,-1.12, -0.2,-1.18, 0.05,-1.22, 0.3,-1.3, -0.1,-1.35, 0.15,-1.4, -0.25,-1.48, 0.0,-1.45, 0.25,-1.52, -0.12,-1.6, 0.1,-1.62, 0.32,-1.68, -0.2,-1.72, 0.02,-1.8, 0.22,-1.85, -0.1,-1.9, 0.12,-1.98, -0.22,-2.02, 0.05,-2.05, 0.28,-2.08, -0.08,-2.15, 0.15,-2.18, -0.02,-2.25, 0.2,-2.35, -0.12,-2.32, 0.08,-2.4,
  -0.1,2.3, 0.12,2.25, -0.2,2.18, 0.05,2.1, 0.25,2.12, -0.15,2.0, 0.08,1.95, -0.05,1.88, 0.22,1.85, -0.2,1.75, 0.02,1.7, 0.15,1.6, -0.1,1.55, 0.05,1.5, -0.22,1.5, 0.2,1.4, -0.05,1.38, 0.1,1.3, -0.15,1.28, 0.02,1.2,
  0.0,-0.9, 0.2,-0.98, -0.1,-1.1, 0.15,-1.18, 0.35,-1.2, -0.05,-1.28, 0.22,-1.38, -0.15,-1.4, 0.05,-1.52, 0.3,-1.58, -0.2,-1.6, 0.0,-1.65, 0.2,-1.72, -0.1,-1.78, 0.12,-1.85, 0.35,-1.9, -0.18,-1.88, 0.0,-1.95, 0.22,-2.0, -0.1,-2.05, 0.1,-2.12, -0.2,-2.2, 0.05,-2.25, 0.25,-2.22, -0.05,-2.38, 0.12,-2.3,
  -0.28,2.45, 0.18,2.48, -0.12,2.12, 0.28,1.95, -0.3,1.62, 0.1,1.78, 0.3,1.3, -0.3,1.2,
  -0.28,-1.25, 0.1,-1.08, 0.4,-1.42, -0.3,-1.78, 0.28,-1.8, -0.25,-2.32, 0.35,-2.05, -0.15,-2.1, 0.1,-2.48
];

const FONT = '"Liberation Sans", Arial, Helvetica, sans-serif';
const BLUE = 'rgba(0,0,255,0.55)';
const RED = 'rgba(255,0,0,0.5)';

const toPts = a => {
  const out = [];
  for (let i = 0; i < a.length; i += 2) out.push({ x: a[i], y: a[i + 1] });
  return out;
};
const fmt = v => v < 0 ? '\u2212' + Math.abs(v) : String(v);

// text with subscripts: parts = [[text, isSub], ...]
function rich(ctx, parts, x, y, center) {
  const w = parts.map(p => { ctx.font = (p[1] ? '8px ' : '12px ') + FONT; return ctx.measureText(p[0]).width; });
  let cx = center ? x - w.reduce((a, b) => a + b, 0) / 2 : x;
  parts.forEach((p, i) => {
    ctx.font = (p[1] ? '8px ' : '12px ') + FONT;
    ctx.fillText(p[0], cx, p[1] ? y + 3 : y);
    cx += w[i];
  });
}

const panelPlugin = {
  id: 'panel',
  beforeDatasetsDraw(chart, args, o) {
    const ctx = chart.ctx;
    ctx.save();
    ctx.textAlign = 'left';
    ctx.textBaseline = 'alphabetic';
    // legend
    ctx.fillStyle = 'rgba(255,0,0,0.9)';
    ctx.beginPath(); ctx.arc(85, o.legY, 3, 0, Math.PI * 2); ctx.fill();
    ctx.strokeStyle = 'rgba(0,0,255,0.65)'; ctx.lineWidth = 1.3;
    ctx.beginPath(); ctx.arc(85, o.legY + 13, 2.6, 0, Math.PI * 2); ctx.stroke();
    ctx.fillStyle = '#111';
    rich(ctx, [['Z', 0], ['PCA', 1], [' ' + o.rPca, 0]], 96, o.legY + 4.5);
    rich(ctx, [['Z', 0], ['trad', 1], [' ' + o.rTrad, 0]], 96, o.legY + 17.5);
    ctx.restore();
  },
  afterDraw(chart, args, o) {
    const ctx = chart.ctx;
    const a = chart.chartArea;
    const xs = chart.scales.x, ys = chart.scales.y;
    ctx.save();
    // R-style axis lines spanning first to last tick
    ctx.strokeStyle = '#333'; ctx.lineWidth = 1;
    ctx.beginPath();
    ctx.moveTo(xs.getPixelForValue(o.ticks[0]), a.bottom + 0.5);
    ctx.lineTo(xs.getPixelForValue(o.ticks[o.ticks.length - 1]), a.bottom + 0.5);
    ctx.moveTo(a.left - 0.5, ys.getPixelForValue(o.ticks[0]));
    ctx.lineTo(a.left - 0.5, ys.getPixelForValue(o.ticks[o.ticks.length - 1]));
    ctx.stroke();

    ctx.fillStyle = '#111';
    ctx.textBaseline = 'alphabetic';
    ctx.textAlign = 'left';
    ctx.font = '12px ' + FONT;
    ctx.fillText(o.label, o.labelX, 13);
    ctx.textAlign = 'center';
    ctx.font = 'bold 12px ' + FONT;
    ctx.fillText(o.title, (a.left + a.right) / 2, 13);
    ctx.textAlign = 'left';
    rich(ctx, [['Observed T', 0], ['2m', 1], [' anomalies (\u00B0C)', 0]], o.xTitleX, o.xTitleY);
    ctx.font = '12px ' + FONT;
    ctx.fillText('predictand: ECA&D; #PCA=\u22124', o.xTitleX, o.xTitleY + 14);
    ctx.translate(o.yTitleX, (a.top + a.bottom) / 2);
    ctx.rotate(-Math.PI / 2);
    rich(ctx, [['Downscaled T', 0], ['2m', 1], [' anomalies (\u00B0C)', 0]], 0, 0, true);
    ctx.restore();
  }
};

function axis(min, max, ticks, fit) {
  return {
    type: 'linear', min, max,
    afterBuildTicks: s => { s.ticks = ticks.map(v => ({ value: v })); },
    afterFit: fit,
    ticks: { callback: fmt, color: '#111', font: { family: FONT, size: 12 }, padding: 7, maxRotation: 0 },
    grid: { color: '#d4d4d4', lineWidth: 1, drawTicks: true, tickLength: 6, tickColor: '#333', tickWidth: 1 },
    border: { display: false, dash: [1, 2] }
  };
}

function makeChart(id, trad, pca, min, max, ticks, pad, yW, xH, panel) {
  return new Chart(document.getElementById(id), {
    type: 'scatter',
    data: {
      datasets: [
        { label: 'Ztrad', data: toPts(trad), order: 0, clip: 0, pointRadius: 2.6, pointBorderWidth: 1.4,
          pointBorderColor: BLUE, pointBackgroundColor: 'rgba(0,0,0,0)', borderColor: BLUE, backgroundColor: 'rgba(0,0,0,0)' },
        { label: 'ZPCA', data: toPts(pca), order: 1, clip: 0, pointRadius: 2.8, pointBorderWidth: 0,
          pointBackgroundColor: RED, backgroundColor: RED, borderColor: RED }
      ]
    },
    options: {
      responsive: false, animation: false, events: [],
      layout: { padding: pad },
      plugins: { legend: { display: false }, tooltip: { enabled: false }, panel },
      scales: {
        x: axis(min, max, ticks, s => { s.height = xH; }),
        y: axis(min, max, ticks, s => { s.width = yW; })
      }
    },
    plugins: [panelPlugin]
  });
}

makeChart('cDjf', djfTrad.concat(djfTradCore, djfTradCore2, djfTradCore3), djfPca.concat(djfPcaCore), -6.6, 4.8, djfTicks,
  { top: 34, right: 14, left: 0, bottom: 0 }, 55, 67,
  { label: '(a)', labelX: 3, title: 'DJF mean temperature', ticks: djfTicks, legY: 145,
    rPca: 'r=0.08 (0.05\u20130.11)', rTrad: 'r=0.92 (0.91\u20130.92)', xTitleX: 172, xTitleY: 421, yTitleX: 13 });

makeChart('cJja', jjaTrad.concat(jjaTradCore, jjaTradCore2, jjaTradCore3), jjaPca.concat(jjaPcaCore), -2.54, 3.79, jjaTicks,
  { top: 34, right: 2, left: 0, bottom: 0 }, 68, 69,
  { label: '(b)', labelX: 15, title: 'JJA mean temperature', ticks: jjaTicks, legY: 170,
    rPca: 'r=0.12 (0.09\u20130.15)', rTrad: 'r=0.8 (0.79\u20130.81)', xTitleX: 168, xTitleY: 420, yTitleX: 23 });
</script>
</body>
</html>
